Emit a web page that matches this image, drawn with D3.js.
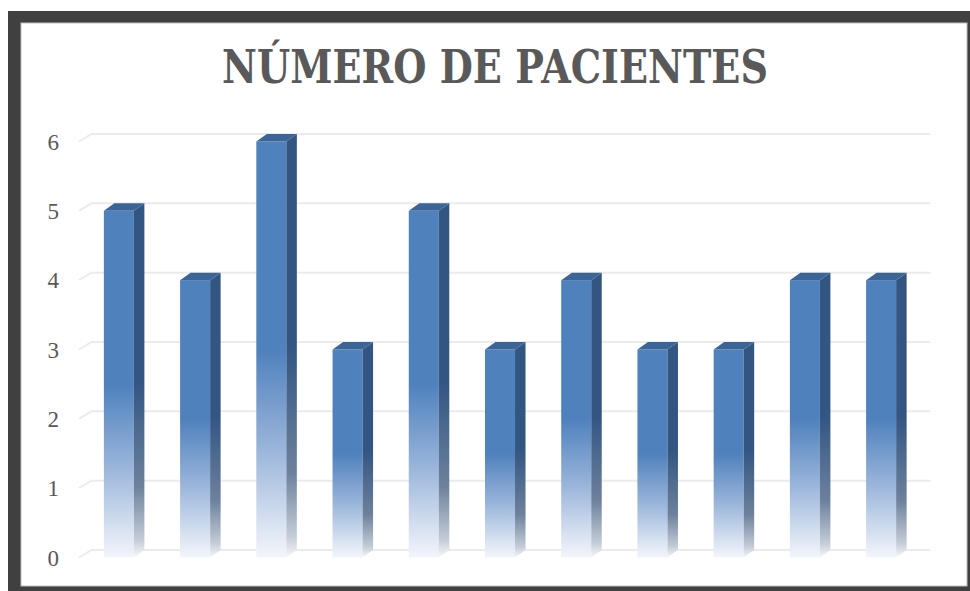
<!DOCTYPE html>
<html>
<head>
<meta charset="utf-8">
<script src="https://cdn.jsdelivr.net/npm/d3@7"></script>
<style>
  html, body { margin: 0; padding: 0; background: #ffffff; }
  svg { display: block; }
</style>
</head>
<body>
<svg id="chart" width="970" height="591"></svg>
<script>
const title = "NÚMERO DE PACIENTES";
const categories = ["1", "2", "3", "4", "5", "6", "7", "8", "9", "10", "11"];
const values = [5, 4, 6, 3, 5, 3, 4, 3, 3, 4, 4];
const yTicks = [0, 1, 2, 3, 4, 5, 6];

const svg = d3.select("#chart");

// frame
svg.append("rect").attr("x", 8).attr("y", 11).attr("width", 970).attr("height", 600).attr("fill", "#404040");
svg.append("rect").attr("x", 21).attr("y", 23).attr("width", 946).attr("height", 563).attr("fill", "#ffffff")
  .attr("stroke", "#bfbfbf").attr("stroke-width", 1);

// depth offsets (3D)
const dx = 10.5, dy = -7.5;

const x = d3.scaleBand().domain(categories).range([81, 919]).paddingInner(0.606).paddingOuter(0.3);
const y = d3.scaleLinear().domain([0, 6]).range([557.5, 141.5]);

const defs = svg.append("defs");
const gFront = defs.append("linearGradient").attr("id", "gFront").attr("x1", 0).attr("y1", 0).attr("x2", 0).attr("y2", 1);
[[0, "#4f81bd"], [0.5, "#4f81bd"], [0.74, "#9ab5da"], [0.96, "#e6ecf6"], [1, "#f2f5fb"]]
  .forEach(([o, c]) => gFront.append("stop").attr("offset", o).attr("stop-color", c));
const gSide = defs.append("linearGradient").attr("id", "gSide").attr("x1", 0).attr("y1", 0).attr("x2", 0).attr("y2", 1);
[[0, "#325582"], [0.5, "#325582"], [0.8, "#6d819c"], [0.95, "#c4ccd7"], [1, "#f6f7f9"]]
  .forEach(([o, c]) => gSide.append("stop").attr("offset", o).attr("stop-color", c));

// title
svg.append("text")
  .attr("x", 495).attr("y", 83)
  .attr("text-anchor", "middle")
  .attr("font-family", "'DejaVu Serif', 'Liberation Serif', serif")
  .attr("font-weight", "bold")
  .attr("font-size", 47)
  .attr("fill", "#595959")
  .attr("textLength", 546)
  .attr("lengthAdjust", "spacingAndGlyphs")
  .text(title);

// gridlines
const x0 = x.range()[0], x1 = x.range()[1];
svg.append("g").selectAll("path").data(yTicks).join("path")
  .attr("d", t => `M${x0 - 2},${y(t)} L${x0 + dx},${y(t) + dy} L${x1 + dx + 1},${y(t) + dy}`)
  .attr("fill", "none")
  .attr("stroke", "#ebebeb")
  .attr("stroke-width", 2);

// y labels
svg.append("g").selectAll("text").data(yTicks).join("text")
  .attr("x", 59).attr("y", t => y(t) + 8)
  .attr("text-anchor", "end")
  .attr("font-family", "'Liberation Serif', serif")
  .attr("font-size", 23)
  .attr("fill", "#595959")
  .text(t => t);

// bars
const bw = x.bandwidth();
const bars = svg.append("g").selectAll("g").data(categories.map((c, i) => ({ c, v: values[i] }))).join("g");

bars.append("rect")
  .attr("x", d => x(d.c)).attr("y", d => y(d.v))
  .attr("width", bw).attr("height", d => y(0) - y(d.v))
  .attr("fill", "url(#gFront)");

bars.append("path")
  .attr("d", d => {
    const xr = x(d.c) + bw, yt = y(d.v), yb = y(0);
    return `M${xr},${yt} L${xr + dx},${yt + dy} L${xr + dx},${yb + dy} L${xr},${yb} Z`;
  })
  .attr("fill", "url(#gSide)");

bars.append("path")
  .attr("d", d => {
    const xl = x(d.c), yt = y(d.v);
    return `M${xl},${yt} L${xl + dx},${yt + dy} L${xl + bw + dx},${yt + dy} L${xl + bw},${yt} Z`;
  })
  .attr("fill", "#3b6597");
</script>
</body>
</html>
